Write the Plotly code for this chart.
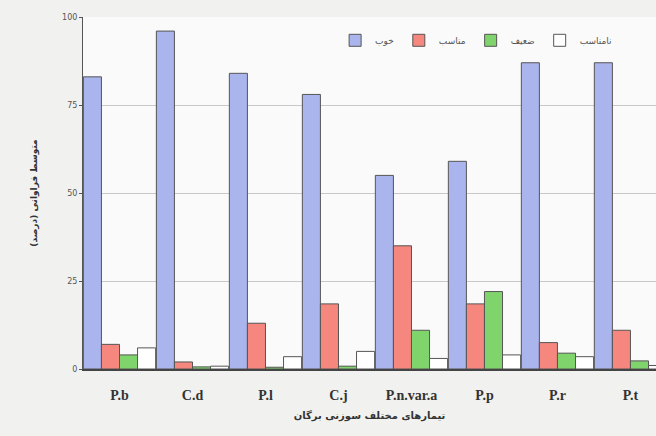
import plotly.graph_objects as go

# Treatments (conifer species) and mean frequency per class (%)
categories = ["P.b", "C.d", "P.l", "C.j", "P.n.var.a", "P.p", "P.r", "P.t"]
series_names = ["خوب", "مناسب", "ضعیف", "نامناسب"]
good = [83, 96, 84, 78, 55, 59, 87, 87]
suitable = [7, 2, 13, 18.5, 35, 18.5, 7.5, 11]
weak = [4, 0.6, 0.5, 0.8, 11, 22, 4.5, 2.3]
unsuitable = [6, 0.8, 3.5, 5, 3, 4, 3.5, 1]

colors = ["#aab5ee", "#f5877f", "#80d46c", "#ffffff"]
values = [good, suitable, weak, unsuitable]

fig = go.Figure()
for name, vals, col in zip(series_names, values, colors):
    fig.add_trace(go.Bar(
        x=categories, y=vals, name=name,
        marker=dict(color=col, line=dict(color="#555555", width=1)),
    ))

fig.update_layout(
    width=656, height=436,
    margin=dict(l=83, r=0, t=17, b=67),
    paper_bgcolor="#f1f1ef",
    plot_bgcolor="#fafafa",
    barmode="group", bargap=0.01, bargroupgap=0,
    font=dict(family="DejaVu Sans", color="#333333"),
    showlegend=True,
    legend=dict(
        orientation="h", x=0.44, y=0.975, xanchor="left", yanchor="top",
        font=dict(size=9, color="#555555"), bgcolor="rgba(0,0,0,0)",
        itemwidth=30,
    ),
    xaxis=dict(
        range=[-0.5, 7.35],
        showline=True, linecolor="#444444", linewidth=2,
        ticks="", showgrid=False, ticklabelstandoff=12,
        tickfont=dict(family="Liberation Serif", size=14, color="#333333", weight="bold"),
        title=dict(text="تیمارهای مختلف سوزنی برگان", standoff=10,
                   font=dict(family="DejaVu Sans", size=10, color="#333333", weight="bold")),
    ),
    yaxis=dict(
        range=[0, 100],
        tickvals=[0, 25, 50, 75, 100],
        showline=True, linecolor="#555555", linewidth=1,
        ticks="outside", ticklen=3, tickcolor="#555555",
        showgrid=True, gridcolor="#c8c8c8", gridwidth=1,
        zeroline=False,
        tickfont=dict(size=8, color="#555555"),
        title=dict(text="متوسط فراوانی (درصد)", standoff=22,
                   font=dict(family="DejaVu Sans", size=9, color="#333333", weight="bold")),
    ),
)

fig.write_html("out.html")
